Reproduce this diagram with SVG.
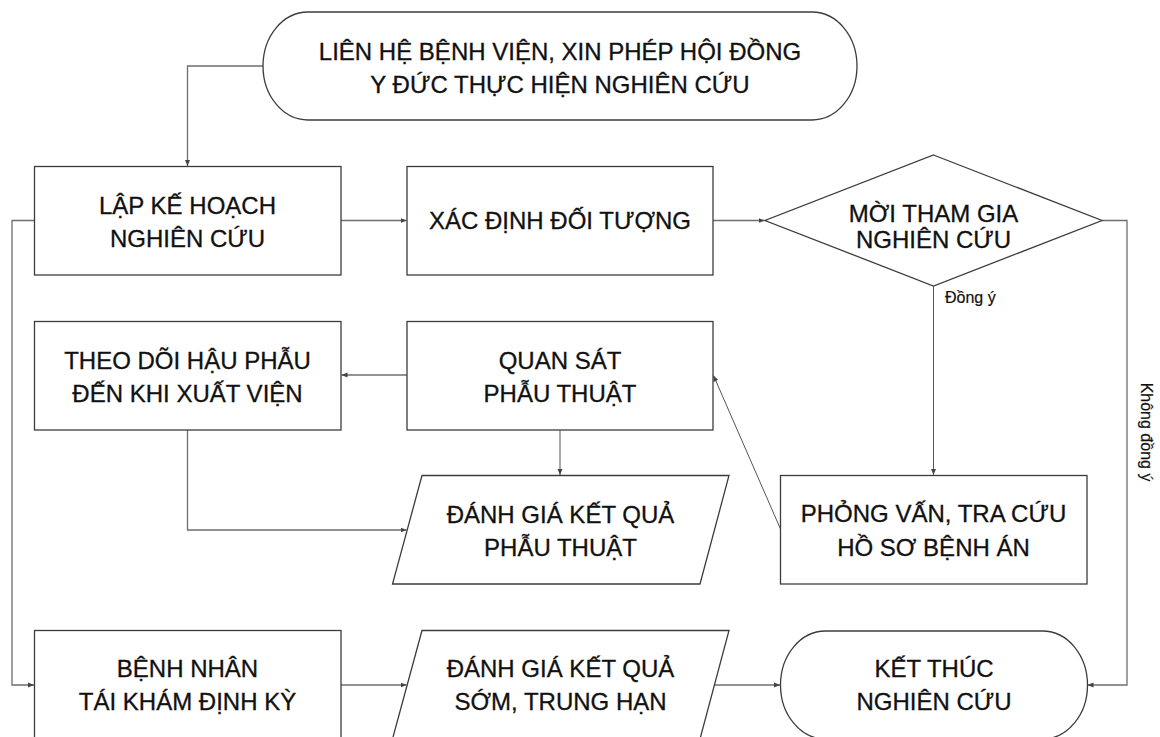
<svg xmlns="http://www.w3.org/2000/svg" width="1160" height="737" viewBox="0 0 1160 737">
<defs>
<style>
.n{fill:#fff;stroke:#3c3c3c;stroke-width:1.3}
.t{font-family:"Liberation Sans",Arial,sans-serif;font-size:24px;fill:#111;stroke:#111;stroke-width:0.3;text-anchor:middle}
.l{font-family:"Liberation Sans",Arial,sans-serif;font-size:16px;fill:#111;stroke:#111;stroke-width:0.2}
.c{fill:none;stroke:#6e6e6e;stroke-width:1.3}
.d{fill:none;stroke:#555;stroke-width:1}
</style>
<marker id="a" markerUnits="userSpaceOnUse" markerWidth="7" markerHeight="6" refX="6" refY="3" orient="auto">
<path d="M0,0.5 L6,3 L0,5.5 z" fill="#444"/>
</marker>
</defs>
<rect width="1160" height="737" fill="#fff"/>
<g id="connectors">
<path class="c" d="M263,66 H187.5 V166" marker-end="url(#a)"/>
<path class="c" d="M341,220.5 H406.5" marker-end="url(#a)"/>
<path class="c" d="M713,220.5 H764.5" marker-end="url(#a)"/>
<path class="d" d="M933.5,286 V475" marker-end="url(#a)"/>
<path class="c" d="M1102,220.5 H1127 V685 H1087.5" marker-end="url(#a)"/>
<path class="d" d="M780.5,529 L713.5,375.5" marker-end="url(#a)"/>
<path class="c" d="M407,375 H341.5" marker-end="url(#a)"/>
<path class="d" d="M560,430 V475" marker-end="url(#a)"/>
<path class="c" d="M187.5,430 V530 H406.5" marker-end="url(#a)"/>
<path class="c" d="M34.5,220.5 H12 V685 H34" marker-end="url(#a)"/>
<path class="c" d="M341,685 H406.5" marker-end="url(#a)"/>
<path class="c" d="M714,685 H780" marker-end="url(#a)"/>
<text class="l" x="945" y="303">Đồng ý</text>
<text class="l" transform="translate(1141,432) rotate(90)" text-anchor="middle" font-size="18">Không đồng ý</text>
</g>
<g id="start">
<path class="n" d="M308,12 H812 A45,54 0 0 1 812,120 H308 A45,54 0 0 1 308,12 Z"/>
<text class="t" x="560" y="59.5">LIÊN HỆ BỆNH VIỆN, XIN PHÉP HỘI ĐỒNG</text>
<text class="t" x="560" y="93">Y ĐỨC THỰC HIỆN NGHIÊN CỨU</text>
</g>
<g id="lapkehoach">
<rect class="n" x="34.5" y="166.5" width="306.5" height="108.5"/>
<text class="t" x="187.5" y="213.5">LẬP KẾ HOẠCH</text>
<text class="t" x="187.5" y="247">NGHIÊN CỨU</text>
</g>
<g id="xacdinh">
<rect class="n" x="407" y="166.5" width="306" height="108.5"/>
<text class="t" x="560" y="229">XÁC ĐỊNH ĐỐI TƯỢNG</text>
</g>
<g id="moi">
<path class="n" d="M933.5,155 L1102,220.5 L933.5,286 L765,220.5 Z"/>
<text class="t" x="933.5" y="222">MỜI THAM GIA</text>
<text class="t" x="933.5" y="248">NGHIÊN CỨU</text>
</g>
<g id="theodoi">
<rect class="n" x="34.5" y="321.5" width="306.5" height="108.5"/>
<text class="t" x="187.5" y="368.5">THEO DÕI HẬU PHẪU</text>
<text class="t" x="187.5" y="402">ĐẾN KHI XUẤT VIỆN</text>
</g>
<g id="quansat">
<rect class="n" x="407" y="321.5" width="306" height="108.5"/>
<text class="t" x="560" y="368.5">QUAN SÁT</text>
<text class="t" x="560" y="402">PHẪU THUẬT</text>
</g>
<g id="danhgia1">
<path class="n" d="M422,475.5 H729 L700,584 H392.5 Z"/>
<text class="t" x="560.5" y="522.5">ĐÁNH GIÁ KẾT QUẢ</text>
<text class="t" x="560.5" y="555.5">PHẪU THUẬT</text>
</g>
<g id="phongvan">
<rect class="n" x="780.5" y="475.5" width="306.5" height="108.5"/>
<text class="t" x="933.5" y="522">PHỎNG VẤN, TRA CỨU</text>
<text class="t" x="933.5" y="555.5">HỒ SƠ BỆNH ÁN</text>
</g>
<g id="benhnhan">
<rect class="n" x="34.5" y="630.5" width="306.5" height="108.5"/>
<text class="t" x="187.5" y="677">BỆNH NHÂN</text>
<text class="t" x="187.5" y="710">TÁI KHÁM ĐỊNH KỲ</text>
</g>
<g id="danhgia2">
<path class="n" d="M422,630.5 H729 L700,739 H392.5 Z"/>
<text class="t" x="560.5" y="677">ĐÁNH GIÁ KẾT QUẢ</text>
<text class="t" x="560.5" y="710">SỚM, TRUNG HẠN</text>
</g>
<g id="ketthuc">
<path class="n" d="M825.5,631 H1042.5 A45,54 0 0 1 1042.5,739 H825.5 A45,54 0 0 1 825.5,631 Z"/>
<text class="t" x="934" y="677">KẾT THÚC</text>
<text class="t" x="934" y="710">NGHIÊN CỨU</text>
</g>
</svg>
